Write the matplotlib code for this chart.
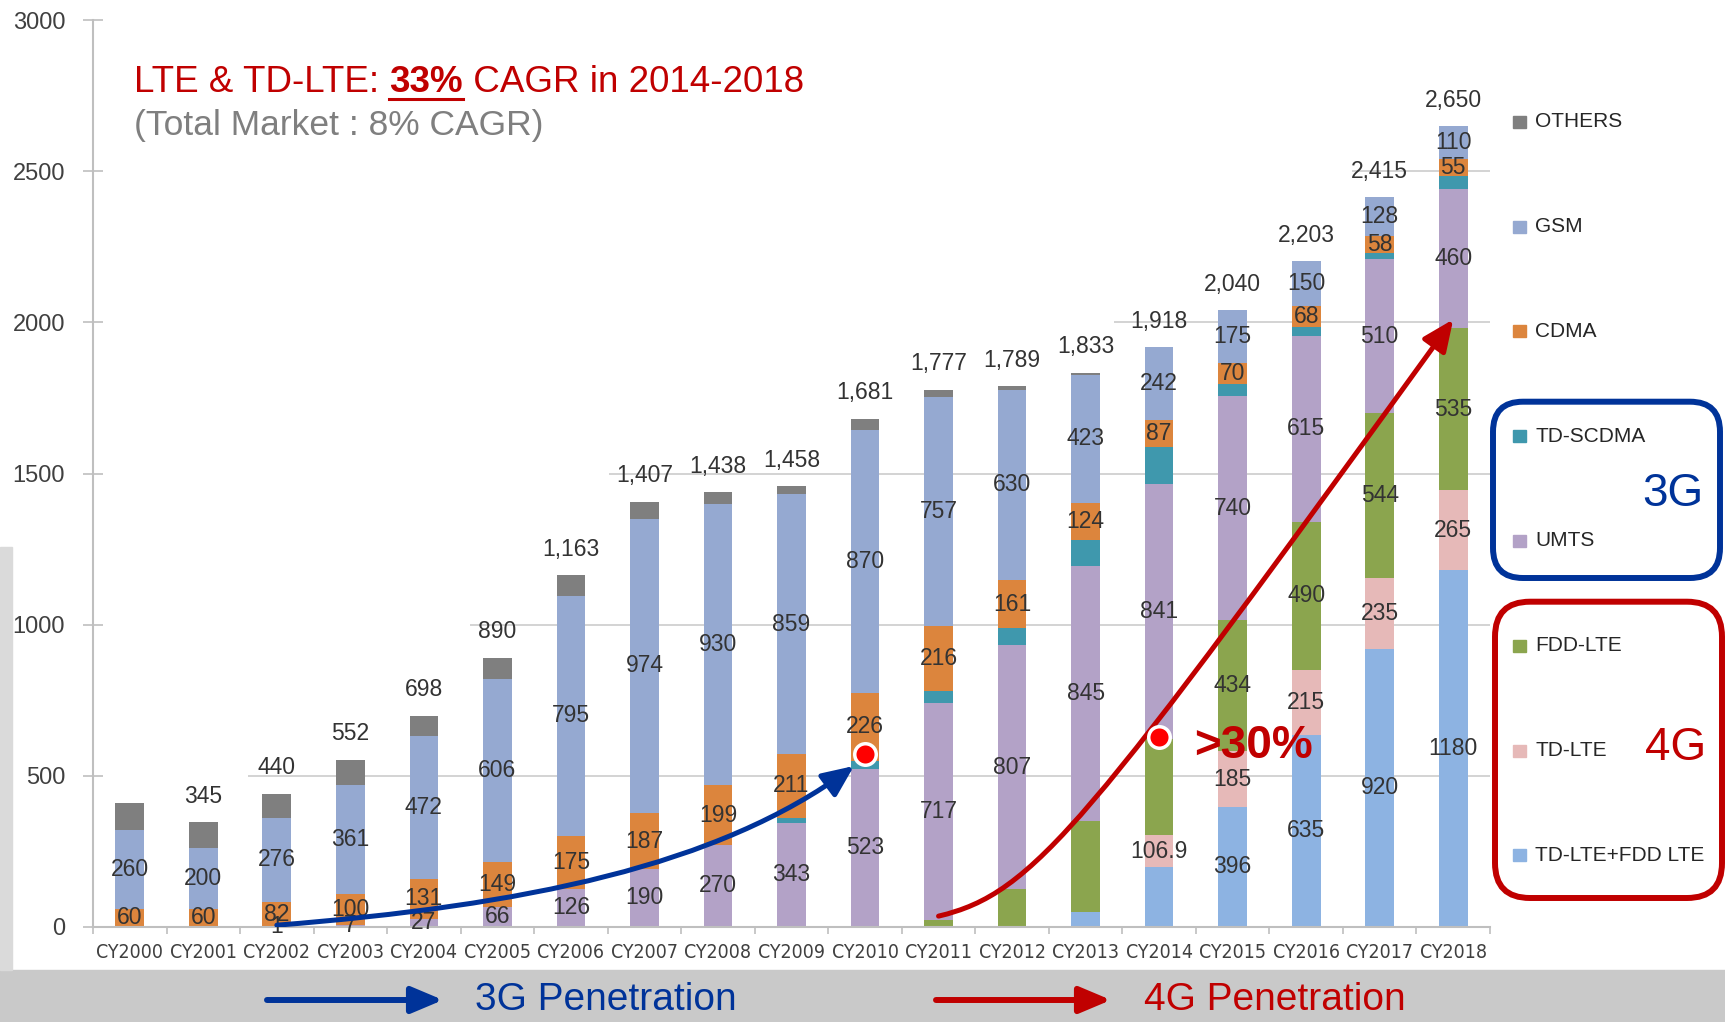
import numpy as np
import matplotlib
matplotlib.use('Agg')
import matplotlib.pyplot as plt
from matplotlib import font_manager
from matplotlib.patches import FancyArrowPatch, FancyBboxPatch, Rectangle
from matplotlib.path import Path
from matplotlib.lines import Line2D

plt.rcParams['font.family'] = ['Liberation Sans', 'DejaVu Sans']

years = [f'CY{y}' for y in range(2000, 2019)]

# stacked bottom -> top, millions of units
lte_mix = [0] * 13 + [50, 196, 396, 635, 920, 1180]
td_lte = [0] * 14 + [106.9, 185, 215, 235, 265]
fdd_lte = [0] * 11 + [23, 124, 300, 320, 434, 490, 544, 535]
umts = [0, 0, 1, 7, 27, 66, 126, 190, 270, 343, 523, 717, 807, 845, 841, 740, 615, 510, 460]
td_scdma = [0] * 9 + [18, 25, 40, 56, 85, 125, 40, 30, 20, 45]
cdma = [60, 60, 82, 100, 131, 149, 175, 187, 199, 211, 226, 216, 161, 124, 87, 70, 68, 58, 55]
gsm = [260, 200, 276, 361, 472, 606, 795, 974, 930, 859, 870, 757, 630, 423, 242, 175, 150, 128, 110]
others = [90, 85, 81, 84, 68, 69, 67, 56, 39, 27, 37, 24, 11, 6, 0, 0, 0, 0, 0]

series = [
    ('TD-LTE+FDD LTE', lte_mix, '#8db3e2'),
    ('TD-LTE', td_lte, '#e6b9b8'),
    ('FDD-LTE', fdd_lte, '#8ba54e'),
    ('UMTS', umts, '#b3a2c7'),
    ('TD-SCDMA', td_scdma, '#3f98ad'),
    ('CDMA', cdma, '#dc853d'),
    ('GSM', gsm, '#95a9d1'),
    ('OTHERS', others, '#7f7f7f'),
]
unlabeled = {'TD-SCDMA': range(19), 'OTHERS': range(19),
             'TD-LTE+FDD LTE': [13, 14], 'FDD-LTE': [11, 12, 13, 14]}

grid_levels = [500, 1000, 1500, 2000, 2500]
grid_from = [1.61, 4.63, 6.52, 13.38, 16.62]

RED = '#c00000'
BLUE = '#003399'
W, H = 1725, 1022

# narrow font for the category labels, if there is one
installed = font_manager.fontManager.ttflist
if any(f.name == 'Liberation Sans Narrow' for f in installed):
    xfont = dict(family='Liberation Sans Narrow', size=15.5)
elif any(f.name == 'DejaVu Sans' and f.stretch == 'condensed' for f in installed):
    xfont = dict(family='DejaVu Sans', stretch='condensed', size=14)
else:
    xfont = dict(family='Liberation Sans', size=14)

fig = plt.figure(figsize=(W / 100, H / 100), dpi=100)
ax = fig.add_axes([93 / W, 1 - 926.7 / H, 1397 / W, 906.4 / H])

x = np.arange(len(years))
bottom = np.zeros(len(years))
for name, vals, col in series:
    vals = np.array(vals, dtype=float)
    ax.bar(x, vals, 0.39, bottom=bottom, color=col, zorder=2, label=name)
    for i, v in enumerate(vals):
        if v > 0 and i not in unlabeled.get(name, []):
            ax.text(i, bottom[i] + v / 2, f'{v:g}', ha='center', va='center',
                    fontsize=16.5, color='#333333', zorder=4)
    bottom += vals

for i in range(1, len(years)):
    ax.annotate(f'{round(bottom[i]):,}', (i, bottom[i]), xytext=(0, 26),
                textcoords='offset pixels', ha='center', va='center',
                fontsize=16.5, color='#333333', zorder=4)

for lev, start in zip(grid_levels, grid_from):
    ax.hlines(lev, start, 18.5, color='#c8c8c8', lw=1.1, zorder=1)

ax.set_xlim(-0.5, 18.5)
ax.set_ylim(0, 3000)
for s in ['top', 'right']:
    ax.spines[s].set_visible(False)
for s in ['left', 'bottom']:
    ax.spines[s].set_color('#bfbfbf')
    ax.spines[s].set_linewidth(1.5)
ax.set_yticks(range(0, 3001, 500))
ax.tick_params(axis='y', direction='inout', length=15, width=1.2, color='#bfbfbf',
               pad=12.6, labelsize=17, labelcolor='#404040')
ax.set_xticks(x, years)
ax.set_xticks(np.arange(-0.5, 18.6, 1), minor=True)
ax.tick_params(axis='x', which='major', length=0, pad=12, labelcolor='#404040')
ax.tick_params(axis='x', which='minor', length=5, width=1.2, color='#bfbfbf')
for lab in ax.get_xticklabels():
    lab.set_fontfamily(xfont['family'])
    lab.set_fontsize(xfont['size'])
    if 'stretch' in xfont:
        lab.set_fontstretch(xfont['stretch'])

# 3G / 4G penetration curves
blue_path = Path([(2.0, 5), (5.36, 70), (8.0, 200), (9.85, 532)],
                 [Path.MOVETO, Path.CURVE4, Path.CURVE4, Path.CURVE4])
red_path = Path([(11.0, 35), (12.3, 110), (13.0, 330), (18.0, 2010)],
                [Path.MOVETO, Path.CURVE4, Path.CURVE4, Path.CURVE4])
for pth, col in [(blue_path, BLUE), (red_path, RED)]:
    ax.add_patch(FancyArrowPatch(path=pth, transform=ax.transData, color=col, lw=3.6,
                                 arrowstyle='-|>,head_length=0.95,head_width=0.42',
                                 mutation_scale=20, zorder=5))
ax.plot([10.0, 14.0], [570, 627], 'o', ms=15.5, mfc='#ff0000', mec='white', mew=2.5, zorder=6)
ax.text(14.47, 598, '>30%', fontsize=33, fontweight='bold', color=RED,
        ha='left', va='center', zorder=7)

# headline
t1 = fig.text(134 / W, 1 - 91.7 / H, 'LTE & TD-LTE: ', fontsize=26.5, color=RED, va='baseline')
t2 = ax.annotate('33%', xy=(1, 0), xycoords=t1, va='bottom', fontsize=26.5,
                 fontweight='bold', color=RED)
t3 = ax.annotate(' CAGR in 2014-2018', xy=(1, 0), xycoords=t2, va='bottom',
                 fontsize=26.5, color=RED)
fig.text(134 / W, 1 - 135 / H, '(Total Market : 8% CAGR)', fontsize=25.5,
         color='#7f7f7f', va='baseline')

# legend (manual, wide spacing)
for k, (name, vals, col) in enumerate(series[::-1]):
    yc = 121.7 + k * 104.8
    fig.add_artist(Rectangle((15.13, (H - yc - 6) / 100), 0.13, 0.12,
                             transform=fig.dpi_scale_trans, color=col))
    fig.text(1535 / W, 1 - yc / H, name, fontsize=15, color='#262626', va='center')

fig.add_artist(FancyBboxPatch((14.93, (H - 578) / 100), 2.27, 1.763,
                              boxstyle='round,pad=0,rounding_size=0.3',
                              transform=fig.dpi_scale_trans, fill=False, ec=BLUE, lw=4.3))
fig.add_artist(FancyBboxPatch((14.95, (H - 898) / 100), 2.27, 2.963,
                              boxstyle='round,pad=0,rounding_size=0.35',
                              transform=fig.dpi_scale_trans, fill=False, ec=RED, lw=4.3))
fig.text(1673 / W, 1 - 494 / H, '3G', fontsize=33, color=BLUE, ha='center', va='center')
fig.text(1676 / W, 1 - 748 / H, '4G', fontsize=33, color=RED, ha='center', va='center')

# bottom band
fig.add_artist(Rectangle((0, 0), W / 100, (H - 970) / 100, transform=fig.dpi_scale_trans,
                         color='#c9c9c9', zorder=-5))
fig.add_artist(Rectangle((0, (H - 970) / 100), 0.12, 4.23, transform=fig.dpi_scale_trans,
                         color='#dadada', zorder=-5))
for x0, x1, xt, col, txt in [(267, 443, 475, BLUE, '3G Penetration'),
                             (936, 1111, 1144, RED, '4G Penetration')]:
    fig.add_artist(FancyArrowPatch((x0 / 100, (H - 1000) / 100), (x1 / 100, (H - 1000) / 100),
                                   transform=fig.dpi_scale_trans, color=col, lw=4.3,
                                   arrowstyle='-|>,head_length=0.95,head_width=0.4',
                                   mutation_scale=20, shrinkA=0, shrinkB=0))
    fig.text(xt / W, 1 - 1000 / H, txt, fontsize=28, color=col, va='center')

fig.canvas.draw()
bb = t2.get_window_extent()
fig.add_artist(Line2D([bb.x0 / 100, bb.x1 / 100], [(H - 98.5) / 100] * 2,
                      transform=fig.dpi_scale_trans, color=RED, lw=2.2))

fig.savefig('out.png', dpi=100)
